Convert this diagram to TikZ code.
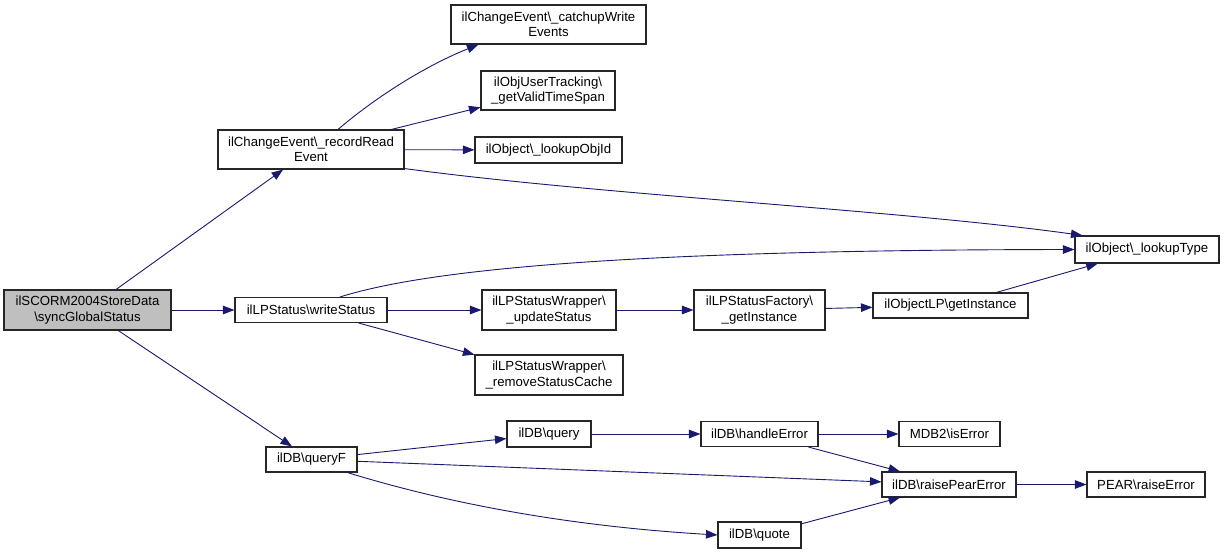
\documentclass[tikz,border=0pt]{standalone}
\usepackage{fontspec}
\setmainfont{Liberation Sans}
\usetikzlibrary{arrows.meta,calc}
\definecolor{edgec}{HTML}{191970}
\definecolor{boxc}{HTML}{262626}
\definecolor{mainfill}{HTML}{BFBFBF}
\begin{document}
\begin{tikzpicture}[x=1pt,y=-1pt,
  box/.style={draw=boxc,line width=1.1pt,fill=white,inner sep=0pt,align=center,
    font=\fontsize{13.2}{15.5}\selectfont},
  edge/.style={draw=edgec,line width=0.9pt,-{Triangle[length=11.5pt,width=8.5pt]}}]
\useasboundingbox (0,0) rectangle (1225,554);
% nodes
\node[box,fill=mainfill,minimum width=167,minimum height=40] (main) at (87.5,310) {ilSCORM2004StoreData\\\textbackslash syncGlobalStatus};
\node[box,minimum width=186,minimum height=39] (rec) at (311,149.5) {ilChangeEvent\textbackslash\_recordRead\\Event};
\node[box,minimum width=195,minimum height=39] (catch) at (548.5,24.5) {ilChangeEvent\textbackslash\_catchupWrite\\Events};
\node[box,minimum width=134,minimum height=39] (objUser) at (548,90.5) {ilObjUserTracking\textbackslash\\\_getValidTimeSpan};
\node[box,minimum width=147,minimum height=26] (lookupObjId) at (548.5,150) {ilObject\textbackslash\_lookupObjId};
\node[box,minimum width=144,minimum height=27] (lookupType) at (1147,249.5) {ilObject\textbackslash\_lookupType};
\node[box,minimum width=152,minimum height=25] (writeStatus) at (311,310) {ilLPStatus\textbackslash writeStatus};
\node[box,minimum width=134,minimum height=40] (updStatus) at (549,310) {ilLPStatusWrapper\textbackslash\\\_updateStatus};
\node[box,minimum width=131,minimum height=40] (factInst) at (759.5,310) {ilLPStatusFactory\textbackslash\\\_getInstance};
\node[box,minimum width=155,minimum height=25] (objLP) at (950.5,305.5) {ilObjectLP\textbackslash getInstance};
\node[box,minimum width=148,minimum height=40] (removeCache) at (549,375) {ilLPStatusWrapper\textbackslash\\\_removeStatusCache};
\node[box,minimum width=91,minimum height=25] (queryF) at (311.5,459.5) {ilDB\textbackslash queryF};
\node[box,minimum width=84,minimum height=26] (query) at (549,434) {ilDB\textbackslash query};
\node[box,minimum width=117,minimum height=25] (handleError) at (759.5,434) {ilDB\textbackslash handleError};
\node[box,minimum width=101,minimum height=25] (isError) at (949.5,434) {MDB2\textbackslash isError};
\node[box,minimum width=134,minimum height=25] (raisePear) at (949,484.5) {ilDB\textbackslash raisePearError};
\node[box,minimum width=118,minimum height=25] (pear) at (1146,484.5) {PEAR\textbackslash raiseError};
\node[box,minimum width=83,minimum height=26] (quote) at (759.5,535) {ilDB\textbackslash quote};
% edges
\draw[edge] (main) -- (rec);
\draw[edge] (main) -- (writeStatus);
\draw[edge] (main) -- (queryF);
\draw[edge] ($(rec.north)+(27,0)$) .. controls (370,102) and (420,68) .. ($(catch.south west)+(28,0)$);
\draw[edge] (rec) -- (objUser);
\draw[edge] (rec) -- (lookupObjId);
\draw[edge] ($(rec.south east)+(0,-1)$) .. controls (600,195) and (900,210) .. ($(lookupType.north west)+(8,0)$);
\draw[edge] ($(writeStatus.north)+(29,0)$) .. controls (420,272) and (600,250) .. (lookupType.west);
\draw[edge] (writeStatus) -- (updStatus);
\draw[edge] (writeStatus) -- (removeCache);
\draw[edge] (updStatus) -- (factInst);
\draw[edge] (factInst) -- (objLP);
\draw[edge] (objLP) -- (lookupType);
\draw[edge] (queryF) -- (query);
\draw[edge] (queryF) -- (raisePear);
\draw[edge] ($(queryF.south)+(36,0)$) .. controls (430,498) and (550,525) .. (quote.west);
\draw[edge] (query) -- (handleError);
\draw[edge] (handleError) -- (isError);
\draw[edge] (handleError) -- (raisePear);
\draw[edge] (raisePear) -- (pear);
\draw[edge] (quote) -- (raisePear);
\end{tikzpicture}
\end{document}
